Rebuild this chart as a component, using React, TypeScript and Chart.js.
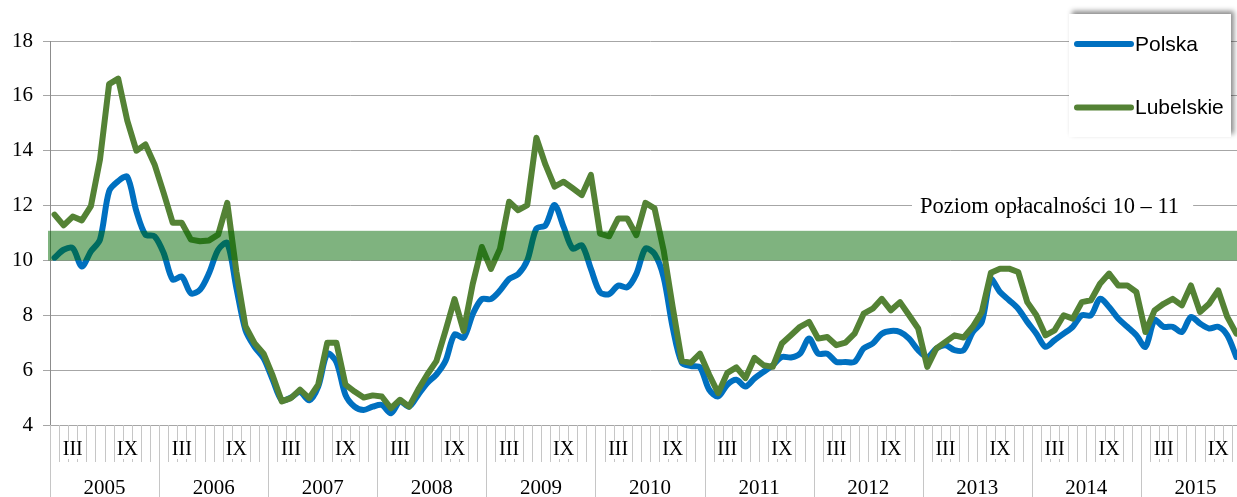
import React, { useEffect, useRef } from "react";
import { Chart, registerables } from "chart.js";

Chart.register(...registerables);

const years = ["2005", "2006", "2007", "2008", "2009", "2010", "2011", "2012", "2013", "2014", "2015"];
const months = ["I", "II", "III", "IV", "V", "VI", "VII", "VIII", "IX", "X", "XI", "XII"];
const shownMonths = ["III", "IX"];

const polska = [
  10.1, 10.39, 10.45, 9.78, 10.33, 10.76, 12.52, 12.89, 13.05, 11.8, 10.94, 10.88,
  10.27, 9.3, 9.41, 8.8, 8.93, 9.54, 10.39, 10.63, 9.0, 7.46, 6.85, 6.43,
  5.65, 4.9, 5.0, 5.2, 4.9, 5.4, 6.6, 6.3, 5.1, 4.67, 4.55, 4.67,
  4.73, 4.43, 4.86, 4.67, 5.1, 5.53, 5.84, 6.33, 7.3, 7.18, 8.04, 8.59,
  8.59, 8.9, 9.32, 9.5, 10.0, 11.16, 11.28, 12.02, 11.22, 10.43, 10.55, 9.69,
  8.84, 8.77, 9.08, 9.02, 9.51, 10.43, 10.24, 9.39, 7.55, 6.27, 6.15, 6.1,
  5.29, 5.04, 5.47, 5.65, 5.4, 5.7, 5.94, 6.18, 6.48, 6.46, 6.6, 7.15,
  6.6, 6.6, 6.3, 6.3, 6.3, 6.79, 6.97, 7.33, 7.43, 7.39, 7.15, 6.73,
  6.48, 6.79, 6.91, 6.73, 6.73, 7.39, 7.76, 9.3, 8.85, 8.55, 8.24, 7.76,
  7.33, 6.85, 7.09, 7.33, 7.58, 8.0, 8.0, 8.6, 8.3, 7.88, 7.58, 7.27,
  6.85, 7.82, 7.58, 7.58, 7.39, 7.94, 7.7, 7.52, 7.58, 7.27, 6.48,
];

const lubelskie = [
  11.67, 11.28, 11.6, 11.46, 11.98, 13.68, 16.43, 16.63, 15.1, 14.0, 14.23, 13.5,
  12.46, 11.37, 11.37, 10.76, 10.7, 10.73, 10.94, 12.1, 9.6, 7.6, 6.98, 6.6,
  5.8, 4.86, 4.98, 5.29, 4.98, 5.47, 7.0, 7.0, 5.47, 5.22, 5.0, 5.08,
  5.04, 4.61, 4.92, 4.67, 5.29, 5.84, 6.33, 7.43, 8.59, 7.43, 9.14, 10.49,
  9.69, 10.43, 12.14, 11.83, 12.02, 14.47, 13.49, 12.69, 12.87, 12.63, 12.38, 13.12,
  10.98, 10.88, 11.53, 11.53, 10.92, 12.1, 11.9, 10.37, 8.29, 6.33, 6.27, 6.6,
  5.84, 5.16, 5.9, 6.1, 5.71, 6.45, 6.18, 6.12, 6.97, 7.27, 7.58, 7.76,
  7.15, 7.21, 6.91, 7.0, 7.33, 8.06, 8.24, 8.6, 8.18, 8.48, 8.0, 7.52,
  6.12, 6.79, 7.03, 7.27, 7.19, 7.58, 8.12, 9.55, 9.7, 9.7, 9.58, 8.48,
  8.0, 7.27, 7.45, 8.0, 7.88, 8.48, 8.55, 9.15, 9.52, 9.09, 9.09, 8.85,
  7.39, 8.18, 8.42, 8.6, 8.36, 9.09, 8.12, 8.42, 8.91, 7.94, 7.33,
];

const seriesNames = ["Polska", "Lubelskie"];
const seriesColors = ["#0070C0", "#548235"];
const bandMin = 10;
const bandMax = 11.08;
const bandLabel = "Poziom opłacalności 10 – 11";
const yMin = 4;
const yMax = 18;
const yStep = 2;

const labels = years.flatMap((y) => months.map((m) => `${m} ${y}`));

const SERIF = "'Liberation Serif', 'Times New Roman', serif";
const SANS = "'Liberation Sans', Arial, sans-serif";

const overlayPlugin = {
  id: "overlay",
  afterDatasetsDraw(chart: any) {
    const { ctx, chartArea, scales } = chart;
    const y = scales.y;
    ctx.save();
    const top = y.getPixelForValue(bandMax);
    const bot = y.getPixelForValue(bandMin);
    ctx.fillStyle = "rgba(0,103,0,0.5)";
    ctx.fillRect(chartArea.left - 2, top, chartArea.right - chartArea.left + 2, bot - top);

    ctx.font = `22.5px ${SERIF}`;
    const w = ctx.measureText(bandLabel).width;
    const ly = y.getPixelForValue(12);
    const lx = 920;
    ctx.fillStyle = "#ffffff";
    ctx.fillRect(lx - 8, ly - 12, w + 22, 25);
    ctx.fillStyle = "#000000";
    ctx.textBaseline = "middle";
    ctx.textAlign = "left";
    ctx.fillText(bandLabel, lx, ly + 2);
    ctx.restore();
  },
  afterDraw(chart: any) {
    const { ctx, chartArea, canvas } = chart;
    const n = labels.length;
    const cw = (chartArea.right - chartArea.left) / n;
    const b = chartArea.bottom;
    const H = canvas.height;
    ctx.save();
    ctx.strokeStyle = "#c6c6c6";
    ctx.lineWidth = 1;
    for (let k = 0; k <= n; k++) {
      const x = Math.round(chartArea.left + k * cw) + 0.5;
      ctx.beginPath();
      ctx.moveTo(x, b);
      ctx.lineTo(x, k % 12 === 0 ? H : b + 37);
      ctx.stroke();
    }
    ctx.font = `20px ${SERIF}`;
    ctx.textAlign = "center";
    ctx.textBaseline = "middle";
    for (let i = 0; i < n; i++) {
      const m = months[i % 12];
      if (!shownMonths.includes(m)) continue;
      const cx = chartArea.left + (i + 0.5) * cw;
      const tw = ctx.measureText(m).width;
      ctx.fillStyle = "#ffffff";
      ctx.fillRect(cx - tw / 2 - 1, b + 16, tw + 2, 18);
      ctx.fillStyle = "#000000";
      ctx.fillText(m, cx, b + 25);
    }
    ctx.font = `21px ${SERIF}`;
    years.forEach((yr, j) => {
      const cx = chartArea.left + (j * 12 + 6) * cw;
      ctx.fillStyle = "#000000";
      ctx.fillText(yr, cx, b + 63);
    });

    const bx = 1069, by = 14, bw = 162, bh = 123;
    ctx.save();
    ctx.shadowColor = "rgba(0,0,0,0.45)";
    ctx.shadowBlur = 5;
    ctx.shadowOffsetX = 3;
    ctx.shadowOffsetY = -3;
    ctx.fillStyle = "#ffffff";
    ctx.fillRect(bx, by, bw, bh);
    ctx.restore();
    const rows = [44, 107.5];
    ctx.font = `21px ${SANS}`;
    ctx.textAlign = "left";
    ctx.textBaseline = "middle";
    seriesNames.forEach((name, i) => {
      ctx.strokeStyle = seriesColors[i];
      ctx.lineWidth = 6;
      ctx.lineCap = "round";
      ctx.beginPath();
      ctx.moveTo(1077, rows[i]);
      ctx.lineTo(1131, rows[i]);
      ctx.stroke();
      ctx.fillStyle = "#000000";
      ctx.fillText(name, 1135, rows[i] + 1);
    });
    ctx.restore();
  },
};

export default function App() {
  const ref = useRef<HTMLCanvasElement | null>(null);
  useEffect(() => {
    if (!ref.current) return;
    const chart = new Chart(ref.current, {
      type: "line",
      data: {
        labels,
        datasets: [
          {
            label: seriesNames[0],
            data: polska,
            borderColor: seriesColors[0],
            backgroundColor: seriesColors[0],
            borderWidth: 6,
            pointRadius: 0,
            tension: 0.3,
            borderJoinStyle: "round",
            borderCapStyle: "round",
            order: 2,
          },
          {
            label: seriesNames[1],
            data: lubelskie,
            borderColor: seriesColors[1],
            backgroundColor: seriesColors[1],
            borderWidth: 6,
            pointRadius: 0,
            tension: 0,
            borderJoinStyle: "round",
            borderCapStyle: "round",
            order: 1,
          },
        ],
      },
      options: {
        responsive: false,
        animation: false,
        events: [],
        layout: { padding: { top: 41, left: 0, right: 12, bottom: 72 } },
        plugins: { legend: { display: false }, tooltip: { enabled: false } },
        scales: {
          x: { display: false, offset: true },
          y: {
            min: yMin,
            max: yMax,
            afterFit: (s: any) => {
              s.width = 50;
            },
            ticks: {
              stepSize: yStep,
              color: "#000000",
              font: { family: SERIF, size: 21 },
              padding: 10,
            },
            grid: { color: "#a6a6a6", lineWidth: 1, tickLength: 7, drawTicks: true },
            border: { display: true, color: "#8c8c8c" },
          },
        },
      },
      plugins: [overlayPlugin],
    });
    return () => chart.destroy();
  }, []);
  return (
    <div style={{ position: "absolute", left: 0, top: 0, width: 1237, height: 497, overflow: "hidden", background: "#fff" }}>
      <canvas ref={ref} width={1262} height={497} style={{ display: "block" }} />
    </div>
  );
}
